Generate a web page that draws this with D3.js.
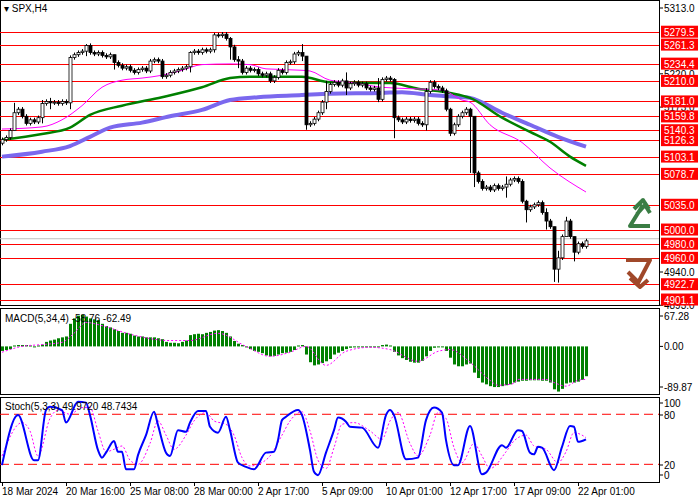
<!DOCTYPE html>
<html><head><meta charset="utf-8">
<script src="https://cdn.jsdelivr.net/npm/d3@7"></script>
<style>body{margin:0;background:#fff}svg{display:block;font-family:"Liberation Sans",Arial,sans-serif}</style>
</head><body><svg id="chart" width="700" height="500"></svg>
<script>
// close prices per H4 bar (open = previous close)
const closes = [
  5127,5130,5140,5165,5170,5160,5150,5155,5152,5158,
  5178,5181,5179,5180,5178,5181,5179,5243,5247,5250,
  5252,5260,5250,5248,5250,5246,5244,5247,5236,5232,
  5228,5230,5225,5222,5226,5228,5224,5238,5240,5238,
  5216,5218,5222,5224,5226,5228,5230,5250,5252,5250,
  5254,5252,5254,5275,5274,5276,5270,5258,5240,5238,
  5222,5228,5225,5226,5220,5218,5220,5210,5215,5225,
  5222,5236,5237,5248,5250,5245,5148,5150,5156,5165,
  5180,5195,5205,5208,5204,5210,5200,5206,5208,5204,
  5206,5200,5198,5200,5184,5212,5214,5212,5158,5155,
  5152,5156,5154,5156,5150,5148,5195,5208,5202,5200,
  5196,5170,5136,5148,5160,5165,5170,5160,5080,5068,
  5058,5060,5056,5062,5058,5060,5064,5070,5072,5068,
  5040,5028,5032,5035,5038,5024,5012,5004,4944,4960,
  4990,5012,4990,4968,4980,4976,4984
];
const firstOpen = 5122;
// notable wicks [bar, high, low]
const wicks = [
  [3,5179,5158],[10,5183,5150],[12,5186,5170],[17,5246,5170],[21,5262,5245],[28,5240,5226],
  [47,5252,5222],[53,5278,5250],[57,5272,5240],[59,5245,5228],[75,5262,5238],[76,5245,5141],
  [81,5210,5170],[86,5222,5190],[94,5214,5180],[98,5214,5129],[106,5200,5140],[112,5172,5132],
  [117,5172,5080],[118,5080,5060],[126,5075,5045],[131,5042,5010],[136,5030,5000],
  [138,5004,4926],[139,4970,4925],[141,5018,4990],[143,4990,4955]
];
const levels = [5279.5,5261.3,5234.4,5210.0,5181.0,5159.8,5140.3,5126.3,5103.1,5078.7,5035.0,5000.0,4980.0,4960.0,4922.7,4901.1];
const priceTicks = [5313.0,5220.0,5173.0,4940.0,4893.0];
const bidPrice = 4987;
// moving averages, read at [bar, price]
const maFast = [[0,5142],[10,5145],[15,5155],[20,5175],[25,5201],[30,5211],[35,5214],[40,5218],[45,5225],[50,5233],[57,5234],[62,5233],[66,5227],[75,5225],[77,5224],[82,5211],[87,5208],[95,5201],[102,5199],[110,5197],[115,5183],[117,5180],[122,5148],[130,5123],[137,5087],[146,5053]];
const maMid = [[0,5127],[10,5135],[17,5144],[22,5162],[30,5175],[40,5187],[50,5201],[57,5214],[62,5216],[75,5216],[82,5208],[97,5207],[104,5199],[112,5193],[117,5186],[125,5158],[132,5138],[137,5124],[142,5103],[146,5090]];
const maSlow = [[0,5103],[10,5110],[17,5118],[22,5131],[27,5144],[35,5151],[42,5160],[50,5169],[57,5183],[64,5187],[75,5190],[82,5192],[95,5193],[100,5194],[107,5190],[115,5187],[117,5186],[125,5165],[132,5148],[139,5131],[146,5117]];
// MACD histogram per bar and signal line
const macdHist = [
  -10,-8,-6,2,3,3,3,2,0,2,4,10,13,15,18,20,22,50,62,68,
  70,66,62,60,58,50,45,42,38,34,30,30,28,24,22,22,20,20,20,18,
  16,10,8,8,7,10,13,25,27,28,27,30,32,35,36,34,30,22,12,6,
  3,0,-6,-10,-12,-15,-20,-22,-21,-18,-15,-14,-12,-8,2,3,-18,-35,-42,-40,
  -37,-33,-28,-18,-14,-10,-6,-3,-2,-2,-1,-2,-2,-1,0,3,4,2,-12,-20,
  -26,-30,-34,-36,-36,-32,-22,-10,-3,-2,-2,-10,-25,-40,-44,-44,-40,-38,-58,-70,
  -80,-84,-88,-90,-90,-88,-86,-84,-80,-78,-76,-76,-75,-75,-75,-76,-76,-80,-95,-100,
  -94,-82,-80,-80,-78,-74,-66
];
const macdSignal = [[0,-13],[5,0],[10,4],[15,9],[18,29],[21,53],[25,46],[32,27],[42,13],[47,13],[54,29],[61,0],[67,-22],[72,-13],[76,0],[81,-42],[86,-11],[92,-2],[97,-7],[104,-33],[109,-11],[112,-7],[117,-35],[122,-75],[124,-86],[128,-82],[129,-73],[136,-73],[138,-80],[141,-88],[144,-75],[146,-73]];
const stochK = [[0,19],[4,79],[8,25],[9,25],[11,85],[12,89],[15,85],[16,70],[19,95],[21,94],[22,79],[24,37],[25,28],[26,34],[28,48],[29,35],[30,35],[31,14],[33,14],[34,31],[36,55],[38,83],[39,67],[41,34],[42,30],[44,61],[46,59],[47,70],[49,84],[51,84],[52,65],[54,58],[56,77],[57,61],[59,22],[61,17],[63,14],[66,34],[68,35],[69,49],[70,73],[71,77],[74,85],[75,79],[77,37],[78,11],[79,7],[81,34],[83,61],[84,76],[86,71],[87,65],[90,64],[94,40],[96,79],[97,85],[98,79],[101,26],[104,28],[106,73],[108,88],[110,82],[111,49],[113,19],[114,19],[117,66],[120,8],[121,10],[125,43],[126,40],[129,61],[130,60],[132,34],[133,32],[134,41],[135,40],[138,13],[140,41],[142,66],[143,65],[144,47],[146,50]];
const stochD = [[0,30],[5,70],[7,60],[9,30],[12,75],[14,85],[17,80],[20,88],[22,88],[24,60],[26,35],[28,38],[30,42],[32,25],[34,20],[37,45],[39,72],[41,55],[43,38],[46,55],[48,72],[51,82],[53,72],[56,68],[58,55],[60,28],[62,18],[64,20],[67,30],[70,55],[72,72],[75,83],[77,60],[79,25],[81,15],[83,40],[85,68],[88,70],[92,60],[95,50],[97,72],[99,82],[102,45],[104,30],[107,55],[109,82],[111,75],[113,40],[115,22],[118,45],[120,30],[122,15],[126,35],[128,48],[131,55],[133,42],[136,38],[139,22],[141,35],[143,58],[145,55],[146,52]];
const timeLabels = [[0,"18 Mar 2024"],[16,"20 Mar 16:00"],[32,"25 Mar 08:00"],[48,"28 Mar 00:00"],[64,"2 Apr 17:00"],[80,"5 Apr 09:00"],[96,"10 Apr 01:00"],[112,"12 Apr 17:00"],[128,"17 Apr 09:00"],[144,"22 Apr 01:00"]];

const svg = d3.select("#chart");
const W = 659;
const x = d3.scaleLinear().domain([0, 146]).range([2, 586]);
const y = d3.scaleLinear().domain([4940, 5313]).range([272, 8]);
const yM = d3.scaleLinear().domain([-89.87, 67.28]).range([387, 316]);
const yS = d3.scaleLinear().domain([0, 100]).range([481, 397.6]);

svg.append("defs").selectAll("clipPath").data([["cMain",0,305],["cMacd",308,394],["cSto",397,482]])
  .enter().append("clipPath").attr("id", d => d[0])
  .append("rect").attr("x", 0).attr("y", d => d[1]).attr("width", W).attr("height", d => d[2] - d[1]);

// panel frames
[[0,305],[308,394],[397,482]].forEach(p => {
  svg.append("rect").attr("x", 0.5).attr("y", p[0] + 0.5).attr("width", W).attr("height", p[1] - p[0])
    .attr("fill", "none").attr("stroke", "#000");
});

const main = svg.append("g").attr("clip-path", "url(#cMain)");

main.selectAll("line.lvl").data(levels).enter().append("line")
  .attr("x1", 0).attr("x2", W).attr("y1", d => Math.round(y(d)) + 0.5).attr("y2", d => Math.round(y(d)) + 0.5)
  .attr("stroke", "#ff0000");
main.append("line").attr("x1", 0).attr("x2", W).attr("y1", y(bidPrice)).attr("y2", y(bidPrice)).attr("stroke", "#c0c0c0");

const maLine = (sc) => d3.line().x(d => x(d[0])).y(d => sc(d[1])).curve(d3.curveMonotoneX);
main.append("path").attr("d", maLine(y)(maSlow)).attr("fill", "none").attr("stroke", "#7b68ee").attr("stroke-width", 4);
main.append("path").attr("d", maLine(y)(maMid)).attr("fill", "none").attr("stroke", "#008000").attr("stroke-width", 2.5);
main.append("path").attr("d", maLine(y)(maFast)).attr("fill", "none").attr("stroke", "#ff00ff").attr("stroke-width", 1);

// candles
const wickMap = new Map(wicks.map(w => [w[0], w]));
const bars = closes.map((c, i) => {
  const o = i === 0 ? firstOpen : closes[i - 1];
  const w = wickMap.get(i);
  return {i, o, c, h: w ? Math.max(w[1], o, c) : Math.max(o, c) + 3, l: w ? Math.min(w[2], o, c) : Math.min(o, c) - 3};
});
const cg = main.selectAll("g.bar").data(bars).enter().append("g");
cg.append("line").attr("x1", d => Math.round(x(d.i)) + 0.5).attr("x2", d => Math.round(x(d.i)) + 0.5)
  .attr("y1", d => y(d.h)).attr("y2", d => y(d.l)).attr("stroke", "#000");
cg.append("rect").attr("x", d => Math.round(x(d.i)) - 1).attr("width", 3)
  .attr("y", d => y(Math.max(d.o, d.c))).attr("height", d => Math.max(1, Math.abs(y(d.o) - y(d.c))))
  .attr("fill", d => d.c >= d.o ? "#fff" : "#000").attr("stroke", "#000").attr("stroke-width", 0.8);

svg.append("text").attr("x", 4).attr("y", 12).attr("font-size", 10).text("\u25BE SPX,H4");

// arrows
svg.append("path").attr("d", "M650,226 L630,226 L643,205 M634,209 L643,200 L649,209 M637,214 L645,205 L650,213")
  .attr("fill", "none").attr("stroke", "#3a7d44").attr("stroke-width", 4).attr("stroke-linejoin", "round");
svg.append("path").attr("d", "M626,260 L650,260 L638,283 M630,278 L640,287 L648,280 M628,272 L637,281")
  .attr("fill", "none").attr("stroke", "#a0482a").attr("stroke-width", 4).attr("stroke-linejoin", "round");

// price axis
const ax = svg.append("g").attr("font-size", 10);
priceTicks.forEach(t => {
  ax.append("line").attr("x1", W).attr("x2", W + 4).attr("y1", y(t)).attr("y2", y(t)).attr("stroke", "#000");
  ax.append("text").attr("x", 664).attr("y", y(t) + 4).text(t.toFixed(1));
});
levels.forEach(l => {
  ax.append("rect").attr("x", 661).attr("y", y(l) - 6).attr("width", 37).attr("height", 12).attr("fill", "#ff0000");
  ax.append("text").attr("x", 664).attr("y", y(l) + 4).attr("fill", "#fff").text(l.toFixed(1));
});

// MACD
const mg = svg.append("g").attr("clip-path", "url(#cMacd)");
mg.selectAll("rect").data(macdHist).enter().append("rect")
  .attr("x", (d, i) => Math.round(x(i)) - 1).attr("width", 3)
  .attr("y", d => Math.min(yM(d), yM(0))).attr("height", d => Math.max(1, Math.abs(yM(d) - yM(0))))
  .attr("fill", "#008000");
mg.append("path").attr("d", maLine(yM)(macdSignal)).attr("fill", "none").attr("stroke", "#ff00ff").attr("stroke-dasharray", "2,2");
svg.append("text").attr("x", 5).attr("y", 322).attr("font-size", 10).text("MACD(5,34,4) -58.76 -62.49");
[[67.28,"67.28"],[0,"0.00"],[-89.87,"-89.87"]].forEach(t => {
  svg.append("line").attr("x1", W).attr("x2", W + 4).attr("y1", yM(t[0])).attr("y2", yM(t[0])).attr("stroke", "#000");
  svg.append("text").attr("x", 664).attr("y", yM(t[0]) + 4).attr("font-size", 10).text(t[1]);
});

// Stochastic
const sg = svg.append("g").attr("clip-path", "url(#cSto)");
[80, 20].forEach(v => sg.append("line").attr("x1", 0).attr("x2", W).attr("y1", yS(v)).attr("y2", yS(v))
  .attr("stroke", "#ff0000").attr("stroke-dasharray", "9,5"));
sg.append("path").attr("d", maLine(yS)(stochD)).attr("fill", "none").attr("stroke", "#ff00ff").attr("stroke-dasharray", "2,2");
sg.append("path").attr("d", maLine(yS)(stochK)).attr("fill", "none").attr("stroke", "#0000ff").attr("stroke-width", 2);
svg.append("text").attr("x", 5).attr("y", 410).attr("font-size", 10).text("Stoch(5,3,3) 49.9720 48.7434");
[[100,403],[80,415],[20,465],[0,475]].forEach(t => {
  svg.append("line").attr("x1", W).attr("x2", W + 4).attr("y1", t[1]).attr("y2", t[1]).attr("stroke", "#000");
  svg.append("text").attr("x", 664).attr("y", t[1] + 4).attr("font-size", 10).text(t[0]);
});

// time axis
timeLabels.forEach(t => {
  svg.append("line").attr("x1", Math.round(x(t[0])) + 0.5).attr("x2", Math.round(x(t[0])) + 0.5)
    .attr("y1", 482).attr("y2", 486).attr("stroke", "#000");
  svg.append("text").attr("x", x(t[0])).attr("y", 495).attr("font-size", 10).text(t[1]);
});
</script></body></html>
